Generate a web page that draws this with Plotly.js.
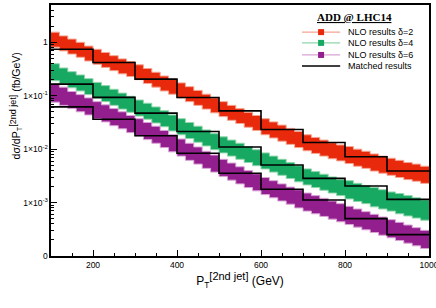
<!DOCTYPE html>
<html>
<head>
<meta charset="utf-8">
<script src="https://cdn.plot.ly/plotly-3.0.1.min.js"></script>
<style>html,body{margin:0;padding:0;background:#fff;}#chart{width:436px;height:308px;}</style>
</head>
<body>
<div id="chart"></div>
<script>
// NLO bins (20 GeV wide), lower edges
const nloBinStart = [100,120,140,160,180,200,220,240,260,280,300,320,340,360,380,400,420,440,460,480,500,520,540,560,580,600,620,640,660,680,700,720,740,760,780,800,820,840,860,880,900,920,940,960,980];
const binEnd = 1000;

// NLO uncertainty bands (fb/GeV)
const nloD2Hi = [1.55,1.32,1.15,1.00,0.851,0.741,0.646,0.562,0.490,0.437,0.380,0.324,0.275,0.234,0.204,0.174,0.148,0.126,0.107,0.0912,0.0776,0.0661,0.0575,0.0490,0.0427,0.0372,0.0324,0.0282,0.0245,0.0214,0.0186,0.0166,0.0148,0.0132,0.0120,0.0112,0.0100,0.00912,0.00813,0.00741,0.00676,0.00617,0.00562,0.00525,0.00479];
const nloD2Lo = [0.813,0.692,0.603,0.525,0.447,0.389,0.339,0.295,0.257,0.229,0.200,0.170,0.145,0.123,0.107,0.0912,0.0776,0.0661,0.0562,0.0479,0.0407,0.0347,0.0302,0.0257,0.0224,0.0186,0.0162,0.0141,0.0123,0.0107,0.00933,0.00832,0.00741,0.00661,0.00603,0.00537,0.00479,0.00437,0.00389,0.00355,0.00324,0.00295,0.00269,0.00251,0.00229];
const nloD4Hi = [0.398,0.331,0.282,0.245,0.209,0.178,0.155,0.132,0.112,0.0977,0.0832,0.0724,0.0617,0.0525,0.0437,0.0372,0.0316,0.0269,0.0229,0.0195,0.0170,0.0148,0.0129,0.0112,0.00977,0.00851,0.00741,0.00646,0.00562,0.00490,0.00427,0.00380,0.00339,0.00302,0.00269,0.00257,0.00229,0.00209,0.00191,0.00174,0.00158,0.00148,0.00135,0.00123,0.00112];
const nloD4Lo = [0.191,0.166,0.141,0.123,0.105,0.0891,0.0776,0.0661,0.0562,0.0490,0.0417,0.0363,0.0309,0.0263,0.0219,0.0186,0.0158,0.0135,0.0115,0.00977,0.00851,0.00741,0.00646,0.00562,0.00490,0.00427,0.00372,0.00324,0.00282,0.00245,0.00214,0.00191,0.00170,0.00151,0.00135,0.00117,0.00105,0.000955,0.000832,0.000759,0.000692,0.000617,0.000562,0.000513,0.000468];
const nloD6Hi = [0.166,0.145,0.120,0.105,0.0912,0.0776,0.0676,0.0575,0.0501,0.0427,0.0372,0.0316,0.0269,0.0224,0.0186,0.0155,0.0129,0.0110,0.00912,0.00776,0.00646,0.00550,0.00468,0.00398,0.00347,0.00295,0.00257,0.00224,0.00195,0.00174,0.00151,0.00135,0.00120,0.00107,0.000955,0.000851,0.000759,0.000676,0.000603,0.000537,0.000479,0.000427,0.000380,0.000339,0.000302];
const nloD6Lo = [0.0759,0.0661,0.0575,0.0501,0.0437,0.0372,0.0324,0.0275,0.0240,0.0204,0.0178,0.0151,0.0129,0.0107,0.00891,0.00741,0.00617,0.00525,0.00437,0.00372,0.00309,0.00263,0.00224,0.00191,0.00166,0.00141,0.00123,0.00107,0.000933,0.000794,0.000692,0.000617,0.000550,0.000490,0.000437,0.000389,0.000347,0.000309,0.000275,0.000245,0.000219,0.000195,0.000174,0.000155,0.000138];

// Matched results (100 GeV bins)
const matchedBinStart = [100,200,300,400,500,600,700,800,900];
const matchedD2 = [0.74,0.42,0.205,0.093,0.052,0.0234,0.0133,0.0072,0.0039];
const matchedD4 = [0.165,0.0933,0.0472,0.0214,0.0110,0.00506,0.00284,0.00204,0.00115];
const matchedD6 = [0.0619,0.0363,0.0178,0.00838,0.00355,0.00178,0.00112,0.000501,0.000251];

const legendLabels = ['NLO results \u03b4=2','NLO results \u03b4=4','NLO results \u03b4=6','Matched results'];
const yTickVals = [1e-4,1e-3,1e-2,1e-1,1];
const yTickText = ['0','1\u00d710<sup>-3</sup>','1\u00d710<sup>-2</sup>','1\u00d710<sup>-1</sup>','1'];
const xTickVals = [200,400,600,800,1000];

const colors = [
  {fill:'#e8290c', pale:'#f4a592'},
  {fill:'#17a862', pale:'#8fd6ab'},
  {fill:'#931f8f', pale:'#d9a3d6'}
];

function stepX(starts, end){ return starts.concat([end]); }
function stepY(vals){ return vals.concat([vals[vals.length-1]]); }

const bands = [[nloD2Lo,nloD2Hi],[nloD4Lo,nloD4Hi],[nloD6Lo,nloD6Hi]];
const traces = [];
bands.forEach((b,i)=>{
  traces.push({x:stepX(nloBinStart,binEnd), y:stepY(b[0]), type:'scatter', mode:'lines',
    line:{shape:'hv', color:colors[i].pale, width:1}, showlegend:false, hoverinfo:'skip'});
  traces.push({x:stepX(nloBinStart,binEnd), y:stepY(b[1]), type:'scatter', mode:'lines', fill:'tonexty',
    fillcolor:colors[i].fill, line:{shape:'hv', color:colors[i].pale, width:1}, showlegend:false, hoverinfo:'skip'});
});
[matchedD2,matchedD4,matchedD6].forEach(m=>{
  traces.push({x:stepX(matchedBinStart,binEnd), y:stepY(m), type:'scatter', mode:'lines',
    line:{shape:'hv', color:'#000', width:1.6}, showlegend:false});
});

// legend drawn as annotations / shapes (paper coords)
const legY = [0.892,0.849,0.801,0.757];
const shapes = [];
const annotations = [];
legY.forEach((yy,i)=>{
  if(i<3){
    shapes.push({type:'line', xref:'paper', yref:'paper', x0:0.664, x1:0.765, y0:yy, y1:yy, line:{color:colors[i].pale, width:1.2}});
    shapes.push({type:'rect', xref:'paper', yref:'paper', xsizemode:'pixel', ysizemode:'pixel', xanchor:0.7145, yanchor:yy,
      x0:-3, x1:3, y0:-3, y1:3, fillcolor:colors[i].fill, line:{width:0}});
  } else {
    shapes.push({type:'line', xref:'paper', yref:'paper', x0:0.664, x1:0.765, y0:yy, y1:yy, line:{color:'#000', width:1.5}});
  }
  annotations.push({xref:'paper', yref:'paper', x:0.780, y:yy, xanchor:'left', yanchor:'middle', showarrow:false,
    text:legendLabels[i], font:{family:'Liberation Sans, Arial, sans-serif', size:9, color:'#000'}});
});
annotations.push({xref:'paper', yref:'paper', x:0.8016, y:0.952, xanchor:'center', yanchor:'middle', showarrow:false,
  text:'<b><span style="text-decoration:underline">ADD @ LHC14</span></b>',
  font:{family:'Liberation Serif, Times New Roman, serif', size:11, color:'#000'}});
annotations.push({xref:'paper', yref:'paper', x:-0.0926, y:0.60, xanchor:'center', yanchor:'middle', showarrow:false, textangle:-90,
  text:'d\u03c3/dP<sub>T</sub><sup><span style="font-size:9px">[2nd jet]</span></sup> (fb/GeV)',
  font:{family:'Liberation Sans, Arial, sans-serif', size:10.5, color:'#000'}});

const layout = {
  width:436, height:308,
  margin:{l:51, r:7, t:5, b:52},
  paper_bgcolor:'#fff', plot_bgcolor:'#fff',
  showlegend:false,
  font:{family:'Liberation Sans, Arial, sans-serif', color:'#000'},
  xaxis:{
    range:[100,1000], tickmode:'array', tickvals:xTickVals,
    ticks:'inside', ticklen:6, tickwidth:1, tickcolor:'#000',
    minor:{ticks:'inside', ticklen:3, tickwidth:1, tickcolor:'#000', dtick:50, tick0:100, showgrid:false},
    showline:true, linecolor:'#000', linewidth:1.6, mirror:true,
    showgrid:false, zeroline:false, automargin:false, ticklabeloverflow:'allow',
    tickfont:{size:8.5, color:'#000'},
    title:{text:'P<sub>T</sub><sup><span style="font-size:11px">[2nd jet]</span></sup> (GeV)', font:{size:12, color:'#000'}, standoff:8}
  },
  yaxis:{
    type:'log', range:[-4, Math.log10(5)], tickmode:'array', tickvals:yTickVals, ticktext:yTickText,
    ticks:'inside', ticklen:6, tickwidth:1, tickcolor:'#000',
    minor:{ticks:'inside', ticklen:3, tickwidth:1, tickcolor:'#000', dtick:'D1', showgrid:false},
    showline:true, linecolor:'#000', linewidth:1.6, mirror:true,
    showgrid:false, zeroline:false, automargin:false, ticklabeloverflow:'allow',
    tickfont:{size:8.5, color:'#000'}
  },
  shapes:shapes,
  annotations:annotations
};

Plotly.newPlot('chart', traces, layout, {displayModeBar:false, staticPlot:true});
</script>
</body>
</html>
